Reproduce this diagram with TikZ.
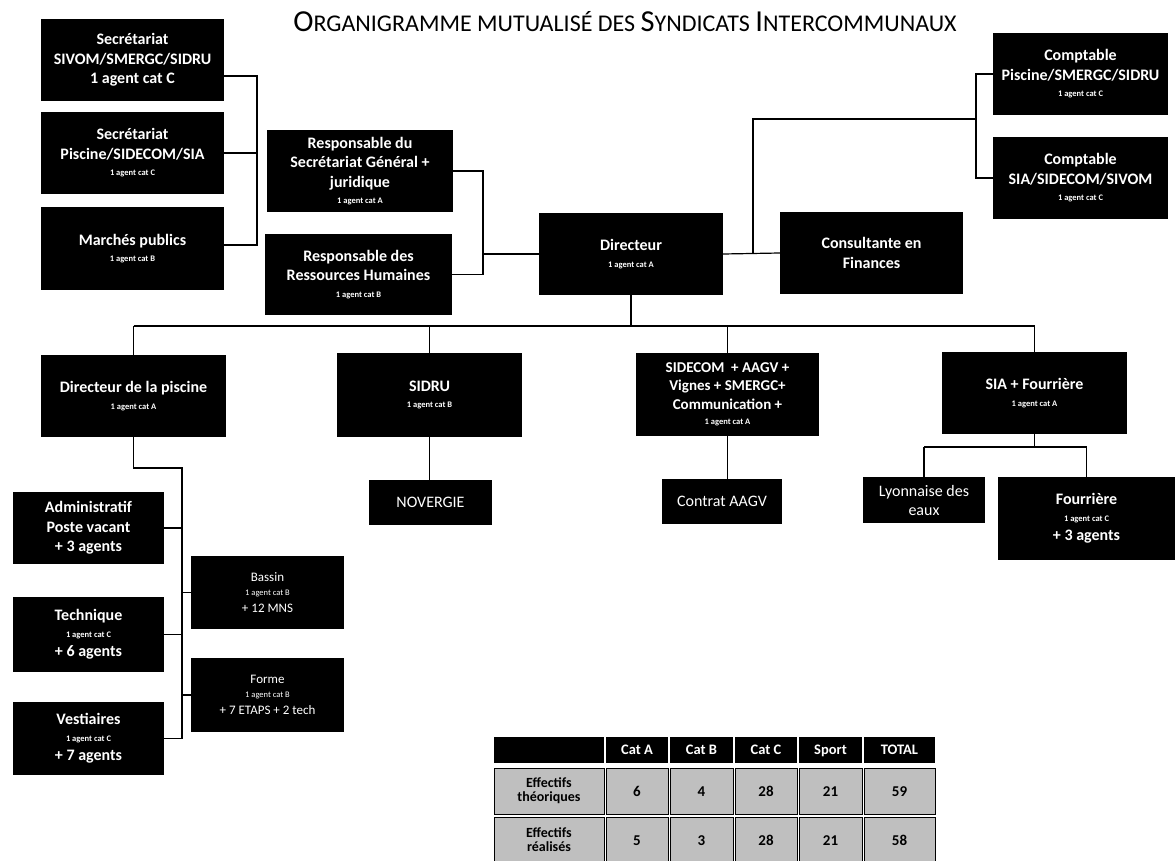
\documentclass[tikz,border=0pt]{standalone}
\usepackage{fontspec}
\setmainfont{Carlito}
\newcommand\smt[1]{\\[-3pt]{\fontsize{8.5}{11}\selectfont #1}}
\newcommand\tcap[1]{{\fontsize{30.5}{32}\selectfont #1}}
\tikzset{
  bx/.style={fill=black, text=white, align=center, inner sep=0pt, draw=none,
    font=\bfseries\fontsize{16}{19.5}\selectfont},
  bxl/.style={bx, font=\fontsize{16}{19}\selectfont},
  bxm/.style={bx, font=\fontsize{13}{17}\selectfont},
  link/.style={draw=black, line width=1.2pt},
  hcell/.style={fill=black, text=white, inner sep=0pt, minimum height=26pt,
    text height=10pt, text depth=2pt,
    font=\bfseries\fontsize{14.5}{16}\selectfont},
  dcell/.style={fill=black!25, draw=black, line width=1pt, inner sep=0pt, align=center,
    minimum height=46pt, font=\bfseries\fontsize{14}{14}\selectfont},
  ncell/.style={fill=black!25, draw=black, line width=1pt, inner sep=0pt,
    minimum height=46pt, text height=10pt, text depth=0pt,
    font=\bfseries\fontsize{15}{15}\selectfont}
}
\begin{document}
\begin{tikzpicture}[x=1pt,y=-1pt]
\useasboundingbox (0,0) rectangle (1175,861);
% title
\node[font=\fontsize{24}{26}\selectfont] (title) at (625,22)
  {\tcap{O}RGANIGRAMME MUTUALIS\'E DES \tcap{S}YNDICATS \tcap{I}NTERCOMMUNAUX};
% top-left secretaries
\node[bx, minimum width=183, minimum height=82] (sec1) at (132.5,60)
  {Secrétariat\\SIVOM/SMERGC/SIDRU\\1 agent cat C};
\node[bx, minimum width=183, minimum height=82] (sec2) at (132.5,153)
  {Secrétariat\\Piscine/SIDECOM/SIA\smt{1 agent cat C}};
\node[bx, minimum width=183, minimum height=83] (sec3) at (132.5,248.5)
  {Marchés publics\smt{1 agent cat B}};
\node[bx, minimum width=186, minimum height=82] (rsg) at (360,171)
  {Responsable du\\Secrétariat Général +\\juridique\smt{1 agent cat A}};
\node[bx, minimum width=187, minimum height=81] (rrh) at (358.5,274.5)
  {Responsable des\\Ressources Humaines\smt{1 agent cat B}};
\node[bx, minimum width=184, minimum height=82] (dir) at (631,254)
  {Directeur\smt{1 agent cat A}};
\node[bx, minimum width=183, minimum height=82] (cons) at (871.5,253)
  {Consultante en\\Finances};
\node[bx, minimum width=175, minimum height=82] (cpt1) at (1080.5,74)
  {Comptable\\Piscine/SMERGC/SIDRU\smt{1 agent cat C}};
\node[bx, minimum width=175, minimum height=82] (cpt2) at (1080.5,178)
  {Comptable\\SIA/SIDECOM/SIVOM\smt{1 agent cat C}};
% second level
\node[bx, minimum width=185, minimum height=82] (dpis) at (133.5,396)
  {Directeur de la piscine\smt{1 agent cat A}};
\node[bx, minimum width=185, minimum height=84] (sidru) at (429.5,395)
  {SIDRU\smt{1 agent cat B}};
\node[bx, minimum width=183, minimum height=83, font=\bfseries\fontsize{15}{18.5}\selectfont]
  (sidecom) at (727.5,394.5)
  {SIDECOM\ \ + AAGV +\\Vignes + SMERGC+\\Communication +\smt{1 agent cat A}};
\node[bx, minimum width=185, minimum height=82] (sia) at (1034.5,393)
  {SIA + Fourrière\smt{1 agent cat A}};
% third level
\node[bxl, minimum width=123, minimum height=45] (nov) at (430.5,502.5) {NOVERGIE};
\node[bxl, minimum width=120, minimum height=45] (aagv) at (722,501.5) {Contrat AAGV};
\node[bxl, minimum width=122, minimum height=46] (lyon) at (924,500) {Lyonnaise des\\eaux};
\node[bx, minimum width=177, minimum height=83] (four) at (1086.5,518.5)
  {Fourrière\smt{1 agent cat C}\\+ 3 agents};
% piscine
\node[bx, minimum width=151, minimum height=72] (adm) at (88.5,528)
  {Administratif\\Poste vacant\\+ 3 agents};
\node[bxm, minimum width=153, minimum height=73] (bas) at (267.5,592.5)
  {Bassin\smt{1 agent cat B}\\+ 12 MNS};
\node[bx, minimum width=151, minimum height=75] (tech) at (88.5,634.5)
  {Technique\smt{1 agent cat C}\\+ 6 agents};
\node[bxm, minimum width=153, minimum height=74] (forme) at (267.5,695)
  {Forme\smt{1 agent cat B}\\+ 7 ETAPS + 2 tech};
\node[bx, minimum width=151, minimum height=73] (vest) at (88.5,738.5)
  {Vestiaires\smt{1 agent cat C}\\+ 7 agents};
% coordinates for connector junctions
\coordinate (sx) at (257,0);
\coordinate (rx) at (483,0);
\coordinate (jc) at (753,253);
\coordinate (cx) at (976,119);
\coordinate (bus) at (631,326);
\coordinate (sbus) at (1032,447);
\coordinate (pb) at (182,468);
% connectors
\draw[link] ([yshift=-16pt]sec1.east) -| (sx |- 0,245) -- ([yshift=3.5pt]sec3.east);
\draw[link] (sec2.east) -- (sec2.east -| sx);
\draw[link] (rsg.east) -| (rx |- rrh.east) -- (rrh.east);
\draw[link] (rx |- dir.west) -- (dir.west);
\draw[link] (dir.east) -- (cons.west);
\draw[link] (jc) |- (cx);
\draw[link] (cpt1.west) -| (cx |- cpt2.west) -- (cpt2.west);
\draw[link] (dir.south) -- (dir.south |- bus);
\draw[link] (dpis.north |- bus) -- (sia.north |- bus);
\draw[link] (dpis.north) -- (dpis.north |- bus);
\draw[link] (sidru.north) -- (sidru.north |- bus);
\draw[link] (sidecom.north) -- (sidecom.north |- bus);
\draw[link] (sia.north) -- (sia.north |- bus);
\draw[link] (sidru.south) -- (sidru.south |- nov.north);
\draw[link] (sidecom.south) -- (sidecom.south |- aagv.north);
\draw[link] (sia.south) -- (sia.south |- sbus);
\draw[link] (lyon.north |- sbus) -- (four.north |- sbus);
\draw[link] (lyon.north) -- (lyon.north |- sbus);
\draw[link] (four.north) -- (four.north |- sbus);
\draw[link] (dpis.south) |- (pb) -- (pb |- vest.east);
\draw[link] (adm.east) -- (adm.east -| pb);
\draw[link] (bas.west) -- (bas.west -| pb);
\draw[link] (tech.east) -- (tech.east -| pb);
\draw[link] (forme.west) -- (forme.west -| pb);
\draw[link] (vest.east) -- (vest.east -| pb);
% table
\node[hcell, minimum width=110] (h0) at (549,750) {};
\node[hcell, minimum width=62] (h1) at (637,750) {Cat A};
\node[hcell, minimum width=63] (h2) at (701.5,750) {Cat B};
\node[hcell, minimum width=62] (h3) at (766,750) {Cat C};
\node[hcell, minimum width=63] (h4) at (830.5,750) {Sport};
\node[hcell, minimum width=71] (h5) at (899.5,750) {TOTAL};
\node[dcell, minimum width=110] (a0) at (549,791) {Effectifs\\théoriques};
\node[ncell, minimum width=62] (a1) at (637,791) {6};
\node[ncell, minimum width=63] (a2) at (701.5,791) {4};
\node[ncell, minimum width=62] (a3) at (766,791) {28};
\node[ncell, minimum width=63] (a4) at (830.5,791) {21};
\node[ncell, minimum width=71] (a5) at (899.5,791) {59};
\node[dcell, minimum width=110] (b0) at (549,840) {Effectifs\\réalisés};
\node[ncell, minimum width=62] (b1) at (637,840) {5};
\node[ncell, minimum width=63] (b2) at (701.5,840) {3};
\node[ncell, minimum width=62] (b3) at (766,840) {28};
\node[ncell, minimum width=63] (b4) at (830.5,840) {21};
\node[ncell, minimum width=71] (b5) at (899.5,840) {58};
\end{tikzpicture}
\end{document}
